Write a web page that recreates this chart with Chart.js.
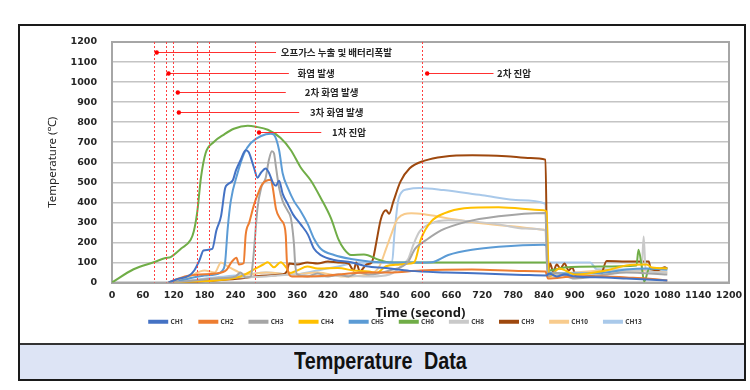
<!DOCTYPE html>
<html><head><meta charset="utf-8">
<script src="https://cdn.jsdelivr.net/npm/chart.js@4.4.1/dist/chart.umd.min.js"></script>
<style>
html,body{margin:0;padding:0;background:#fff;}
#wrap{position:relative;width:750px;height:390px;overflow:hidden;background:#fff;}
#frame{position:absolute;left:18px;top:24px;width:724px;height:353px;border:2px solid #1a1a1a;}
#bar{position:absolute;left:0;right:0;bottom:0;height:36px;box-sizing:border-box;border-top:2px solid #333;background:#dde4f5;text-align:center;}
#bar span{display:inline-block;transform:scaleX(0.86);transform-origin:center;font-family:"Liberation Sans",sans-serif;font-weight:bold;font-size:23px;line-height:33px;color:#111;word-spacing:7px;margin-left:-4px;}
#c{position:absolute;left:0;top:0;z-index:2;}
</style></head>
<body><div id="wrap"><div id="frame"><div id="bar"><span>Temperature Data</span></div></div>
<canvas id="c" width="750" height="390"></canvas></div>
<script>
// ---- data ----
const ch1Time = [110,125,150,160,170,178,195,203,212,220,225,235,241,250,260,266,276,283,290,299,305,313,319,325,332,342,352,367,381,393,406,432,465,495,533,579,650,720,800,845,850,865,880,900,960,1000,1040,1080];
const ch1Temp = [0,15,35,60,110,160,168,260,330,470,490,510,559,610,660,650,574,523,549,569,549,498,483,508,442,391,340,290,239,168,137,112,101,81,72,58,50,45,38,35,45,30,40,30,25,20,15,10];
const ch2Time = [110,130,150,170,200,223,232,237,242,247,256,260,267,276,283,293,309,313,319,328,335,338,340,342,350,380,420,460,500,540,600,700,800,843,848,900,960,1000,1040,1080];
const ch2Temp = [0,20,35,40,45,64,100,115,123,90,96,238,300,386,437,493,513,468,366,315,285,234,112,61,30,30,35,45,50,50,60,65,58,55,20,30,30,25,20,10];
const ch3Time = [120,160,200,240,250,260,270,274,283,290,299,305,311,315,319,325,332,342,348,354,356,360,380,400,420,440,460,480,500,540,575,590,610,640,685,752,843,847,860,900,960,1000,1080];
const ch3Temp = [0,10,20,30,50,25,30,100,371,472,523,610,655,645,574,472,406,356,320,188,101,40,30,45,30,40,30,50,40,60,100,170,210,260,300,330,347,30,50,20,40,50,40];
const ch4Time = [120,200,250,280,295,303,315,328,340,345,360,380,400,439,470,500,514,533,560,580,588,601,621,646,685,752,839,845,850,870,900,960,1000,1040,1050,1080];
const ch4Temp = [0,10,30,70,91,101,76,101,70,47,60,80,70,72,60,55,47,81,90,95,101,218,305,345,371,376,361,355,30,70,40,60,85,90,75,70];
const ch5Time = [120,150,180,200,215,220,225,231,244,257,270,290,309,315,325,332,342,354,367,381,393,406,432,465,500,540,600,621,654,700,752,839,845,850,900,960,1000,1040,1080];
const ch5Temp = [0,20,35,40,60,101,269,406,544,645,696,731,742,737,660,544,472,406,356,290,218,168,137,117,105,100,100,101,137,163,178,188,185,50,45,50,65,70,65];
const ch6Time = [0,42,81,104,114,134,153,159,166,173,182,198,217,237,264,280,303,328,348,367,387,406,426,440,451,465,490,520,540,845,850,880,950,1020,1024,1030,1035,1045,1080];
const ch6Temp = [0,66,101,122,127,168,213,254,356,523,645,701,737,767,782,777,762,721,660,574,508,422,320,218,168,137,140,112,100,100,60,75,80,85,163,85,5,70,70];
const ch8Time = [120,200,300,360,400,450,500,540,570,576,586,598,621,654,700,752,803,843,847,900,960,1000,1030,1034,1038,1080];
const ch8Temp = [0,20,30,40,30,35,30,40,100,117,188,254,295,310,305,290,269,259,30,50,40,60,60,229,60,50];
const ch9Time = [120,160,200,250,290,330,340,345,360,380,400,420,440,460,470,475,482,495,505,509,514,523,533,539,547,561,579,608,645,701,767,814,843,847,852,858,865,872,880,888,895,903,950,962,1000,1044,1048,1060,1075,1080];
const ch9Temp = [0,3,10,20,34,40,55,95,90,100,95,105,100,95,60,100,55,90,100,132,199,317,360,343,402,503,570,608,628,635,630,621,613,40,95,55,90,70,95,60,75,30,35,107,105,105,66,61,76,70];
const ch10Time = [120,150,180,200,212,225,240,260,300,350,400,450,500,520,533,543,556,582,607,654,718,783,839,845,850,900,960,1000,1040,1080];
const ch10Temp = [0,30,60,50,100,80,60,40,50,40,50,30,40,80,168,239,320,345,340,320,295,279,264,255,40,50,60,60,60,50];
const ch13Time = [120,200,260,300,350,400,440,480,520,545,549,556,563,575,598,645,720,795,843,847,860,930,943,1000,1080];
const ch13Temp = [0,25,40,50,40,60,80,100,100,105,233,400,450,465,472,461,435,410,393,100,100,100,66,65,60];

const seriesNames = ['CH1','CH2','CH3','CH4','CH5','CH6','CH8','CH9','CH10','CH13'];
const seriesTimes = [ch1Time,ch2Time,ch3Time,ch4Time,ch5Time,ch6Time,ch8Time,ch9Time,ch10Time,ch13Time];
const seriesTemps = [ch1Temp,ch2Temp,ch3Temp,ch4Temp,ch5Temp,ch6Temp,ch8Temp,ch9Temp,ch10Temp,ch13Temp];
const seriesColors = ['#4472c4','#ed7d31','#a5a5a5','#ffc000','#5b9bd5','#70ad47','#c9c9c9','#9e480e','#f8cb8c','#a9c9ea'];

// event markers (seconds) and annotation notes
const eventTimes = [81,105,119,165,189,278,603];
const noteLabels = ['오프가스 누출 및 배터리폭발','화염 발생','2차 화염 발생','3차 화염 발생','1차 진압','2차 진압'];
const noteTemp = [1150,1045,950,850,750,1045];
const noteFrom = [87,110,128,130,286,613];
const noteTo = [319,344,338,364,407,742];
const noteTextAt = [328,361,375,385,428,749];

const xTickStep = 60, yTickStep = 100;

const plotDecor = {
  id:'plotDecor',
  beforeDatasetsDraw(chart){
    const {ctx, chartArea:a} = chart;
    ctx.save();
    ctx.strokeStyle = '#a6a6a6'; ctx.lineWidth = 2;
    ctx.strokeRect(a.left, a.top, a.right-a.left, a.bottom-a.top);
    ctx.restore();
  },
  afterDatasetsDraw(chart){
    const {ctx, chartArea:a, scales:{x,y}} = chart;
    ctx.save();
    ctx.strokeStyle = '#ff4040'; ctx.lineWidth = 1; ctx.setLineDash([2,2]);
    eventTimes.forEach(t=>{
      const px = Math.round(x.getPixelForValue(t))+0.5;
      ctx.beginPath(); ctx.moveTo(px,a.top); ctx.lineTo(px,a.bottom); ctx.stroke();
    });
    ctx.setLineDash([]);
    ctx.font = 'bold 9.5px "Noto Sans CJK KR", sans-serif';
    ctx.textBaseline = 'middle';
    noteLabels.forEach((lab,i)=>{
      const py = Math.round(y.getPixelForValue(noteTemp[i]))+0.5;
      const x0 = x.getPixelForValue(noteFrom[i]), x1 = x.getPixelForValue(noteTo[i]);
      ctx.strokeStyle = '#ff3030'; ctx.lineWidth = 1;
      ctx.beginPath(); ctx.moveTo(x0,py); ctx.lineTo(x1,py); ctx.stroke();
      ctx.fillStyle = '#ff0000';
      ctx.beginPath(); ctx.arc(x0,py,2.2,0,Math.PI*2); ctx.fill();
      ctx.fillStyle = '#262626';
      ctx.fillText(lab, x.getPixelForValue(noteTextAt[i]), py);
    });
    ctx.restore();
  }
};

const datasets = seriesNames.map((n,i)=>({
  label:n,
  data: seriesTimes[i].map((t,j)=>({x:t, y:seriesTemps[i][j]})),
  borderColor: seriesColors[i], backgroundColor: seriesColors[i],
  borderWidth: 2, pointRadius: 0, fill:false, cubicInterpolationMode:'monotone'
}));

const plainTick = v => String(v);

new Chart(document.getElementById('c'), {
  type:'line',
  data:{datasets},
  plugins:[plotDecor],
  options:{
    responsive:false, animation:false,
    layout:{padding:{left:62,right:21,top:42,bottom:55}},
    plugins:{
      tooltip:{enabled:false},
      legend:{position:'bottom', labels:{boxWidth:18, boxHeight:2, padding:16, color:'#404040',
        font:{size:6.5, weight:'bold', family:'"Noto Sans", sans-serif'}}}
    },
    scales:{
      x:{type:'linear', min:0, max:1200,
        ticks:{stepSize:xTickStep, autoSkip:false, maxRotation:0, padding:7, color:'#262626', callback:plainTick,
          font:{size:9.5, weight:'bold', family:'"DejaVu Sans", sans-serif'}},
        grid:{display:false, drawTicks:false},
        border:{display:true, color:'#a6a6a6', width:2},
        title:{display:true, text:'Time (second)', color:'#1a1a1a', padding:{top:0,bottom:-19},
          font:{size:13, weight:'bold', family:'"Noto Sans", sans-serif'}},
        afterFit(s){ s.height = 20; }
      },
      y:{min:0, max:1200,
        ticks:{stepSize:yTickStep, padding:15, color:'#262626', callback:plainTick,
          font:{size:9.5, weight:'bold', family:'"DejaVu Sans", sans-serif'}},
        grid:{color:'#c4c4c4', lineWidth:1.5, drawTicks:false},
        border:{display:false},
        title:{display:true, text:'Temperature (℃)', color:'#262626', padding:{top:-16,bottom:0},
          font:{size:11.5, weight:'normal', family:'"Noto Sans", sans-serif'}},
        afterFit(s){ s.width = 50; }
      }
    }
  }
});
</script></body></html>
